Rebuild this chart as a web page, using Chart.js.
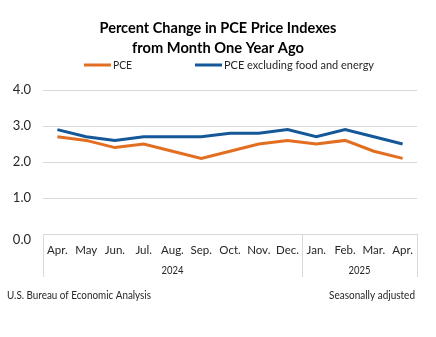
<!DOCTYPE html>
<html>
<head>
<meta charset="utf-8">
<script src="https://cdn.jsdelivr.net/npm/chart.js@4"></script>
<style>
  html, body { margin: 0; padding: 0; background: #fff; }
  #pceChart { display: block; }
</style>
</head>
<body>
<canvas id="pceChart" width="436" height="337"></canvas>
<script>
const months = ['Apr.', 'May', 'Jun.', 'Jul.', 'Aug.', 'Sep.', 'Oct.', 'Nov.', 'Dec.', 'Jan.', 'Feb.', 'Mar.', 'Apr.'];
const years = [{ label: '2024', from: 0, to: 8 }, { label: '2025', from: 9, to: 12 }];
const pce = [2.7, 2.6, 2.4, 2.5, 2.3, 2.1, 2.3, 2.5, 2.6, 2.5, 2.6, 2.3, 2.1];
const pceCore = [2.9, 2.7, 2.6, 2.7, 2.7, 2.7, 2.8, 2.8, 2.9, 2.7, 2.9, 2.7, 2.5];
const yTicks = [0, 1, 2, 3, 4];

const ORANGE = '#e26e22';
const BLUE = '#145898';
const FONT = 'Lato, "Open Sans", sans-serif';
const TEXT = '#262626';

// title, legend, year groups and source notes
const extras = {
  id: 'extras',
  afterDraw(chart) {
    const c = chart.ctx;
    const x = chart.scales.x;
    const area = chart.chartArea;
    c.save();

    c.fillStyle = '#000';
    c.textAlign = 'center';
    c.textBaseline = 'middle';
    c.font = 'bold 16px ' + FONT;
    c.fillText('Percent Change in PCE Price Indexes', 218, 28, 237);
    c.fillText('from Month One Year Ago', 218, 48, 172);

    // legend
    c.lineWidth = 3;
    c.font = '12px ' + FONT;
    c.textAlign = 'left';
    c.fillStyle = TEXT;
    [[ORANGE, 'PCE', 84, 19], [BLUE, 'PCE excluding food and energy', 195, 150]].forEach(([col, txt, lx, w]) => {
      c.strokeStyle = col;
      c.beginPath();
      c.moveTo(lx, 65);
      c.lineTo(lx + 27, 65);
      c.stroke();
      c.fillText(txt, lx + 29, 65, w);
    });

    // y label for zero sits a bit lower, under the axis box
    c.font = '13px ' + FONT;
    c.textAlign = 'right';
    c.fillStyle = TEXT;
    c.fillText('0.0', 31, chart.scales.y.getPixelForValue(0) + 6);

    // category box: vertical dividers and year labels
    c.strokeStyle = '#d9d9d9';
    c.lineWidth = 1;
    const step = x.getPixelForValue(1) - x.getPixelForValue(0);
    const top = area.bottom;
    const bottom = top + 43;
    c.font = '12px ' + FONT;
    c.textAlign = 'center';
    years.forEach(yr => {
      const l = x.getPixelForValue(yr.from) - step / 2;
      const r = x.getPixelForValue(yr.to) + step / 2;
      [l, r].forEach(px => {
        c.beginPath();
        c.moveTo(Math.round(px) + 0.5, top);
        c.lineTo(Math.round(px) + 0.5, bottom);
        c.stroke();
      });
      c.fillText(yr.label, (l + r) / 2, top + 36, 22);
    });

    // notes
    c.font = '12px ' + FONT;
    c.textAlign = 'left';
    c.fillText('U.S. Bureau of Economic Analysis', 7, 295, 144);
    c.textAlign = 'right';
    c.fillText('Seasonally adjusted', 415, 295, 86);
    c.restore();
  }
};

new Chart(document.getElementById('pceChart'), {
  type: 'line',
  data: {
    labels: months,
    datasets: [{
      label: 'PCE',
      data: pce,
      borderColor: ORANGE,
      backgroundColor: ORANGE,
      borderWidth: 3,
      pointRadius: 0,
      tension: 0,
      fill: false
    }, {
      label: 'PCE excluding food and energy',
      data: pceCore,
      borderColor: BLUE,
      backgroundColor: BLUE,
      borderWidth: 3,
      pointRadius: 0,
      tension: 0,
      fill: false
    }]
  },
  options: {
    responsive: false,
    animation: false,
    layout: { padding: { top: 90, right: 19, bottom: 59, left: 0 } },
    plugins: {
      legend: { display: false },
      title: { display: false },
      tooltip: { enabled: false }
    },
    scales: {
      x: {
        offset: true,
        grid: { display: false, drawTicks: false },
        border: { display: false },
        ticks: {
          color: TEXT,
          font: { family: FONT, size: 11.5 },
          padding: 9,
          maxRotation: 0,
          autoSkip: false
        },
        afterFit(scale) { scale.height = 44; }
      },
      y: {
        min: 0,
        max: 4,
        afterBuildTicks(scale) { scale.ticks = yTicks.map(v => ({ value: v })); },
        afterFit(scale) { scale.width = 43; },
        grid: { color: '#d9d9d9', lineWidth: 1, drawTicks: false },
        border: { display: false },
        ticks: {
          color: ctx => ctx.tick.value === 0 ? 'rgba(0,0,0,0)' : TEXT,
          font: { family: FONT, size: 13 },
          padding: 12,
          callback: v => v.toFixed(1)
        }
      }
    }
  },
  plugins: [extras]
});
</script>
</body>
</html>
